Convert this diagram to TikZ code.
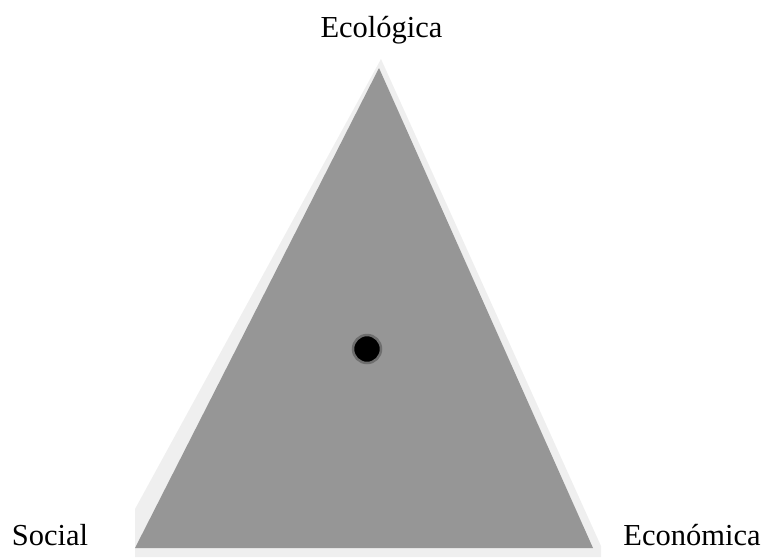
\documentclass[tikz,border=0pt]{standalone}
\usepackage{fontspec}
\setmainfont{Liberation Serif}
\definecolor{trigray}{RGB}{150,150,150}
\definecolor{glow}{RGB}{239,239,239}
\definecolor{ringgray}{RGB}{110,110,110}
\tikzset{
  lbl/.style={anchor=base, inner sep=0pt, font=\fontsize{30.5}{36}\selectfont},
  dot/.style={circle, fill=black, draw=ringgray, line width=2.5pt, minimum size=28pt, inner sep=0pt}
}
\begin{document}
\begin{tikzpicture}[x=1pt,y=-1pt]
\useasboundingbox (0,0) rectangle (765,558);
% glow / shadow
\fill[glow] (381,59) -- (601,546) -- (601,557) -- (135,557) -- (135,509) -- cycle;
% main triangle
\fill[trigray] (379,68) -- (593,548) -- (135,548) -- cycle;
% centre point
\node[dot] (centre) at (367,349) {};
% labels
\node[lbl] (eco) at (381.5,37) {Ecológica};
\node[lbl] (soc) at (50,545) {Social};
\node[lbl] (econ) at (692,545) {Económica};
\end{tikzpicture}
\end{document}
